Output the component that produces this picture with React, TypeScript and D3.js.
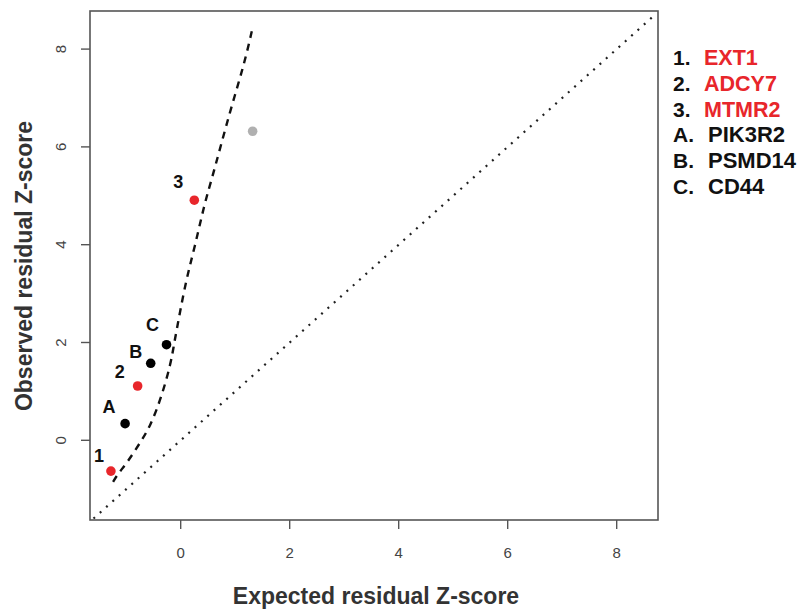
import React from "react";
import * as d3 from "d3";

const pointLabels = ["1", "A", "2", "B", "C", "3", ""];
const pointX = [-1.28, -1.02, -0.79, -0.55, -0.26, 0.25, 1.32];
const pointY = [-0.63, 0.34, 1.11, 1.575, 1.955, 4.91, 6.32];
const pointKind = ["red", "black", "red", "black", "black", "red", "grey"];

const curveX = [-1.24, -1.145, -0.99, -0.75, -0.56, -0.35, -0.18, -0.12, -0.04, 0.1, 0.26, 0.44, 0.55, 0.73, 0.93, 1.17, 1.31];
const curveY = [-0.85, -0.675, -0.47, -0.06, 0.28, 0.89, 1.575, 1.98, 2.46, 3.28, 3.96, 4.85, 5.26, 6.0, 6.82, 7.71, 8.39];

const xTicks = [0, 2, 4, 6, 8];
const yTicks = [0, 2, 4, 6, 8];

const legendNums = ["1.", "2.", "3.", "A.", "B.", "C."];
const legendNames = ["EXT1", "ADCY7", "MTMR2", "PIK3R2", "PSMD14", "CD44"];
const legendKind = ["red", "red", "red", "black", "black", "black"];

const colors: Record<string, string> = { red: "#e8262b", black: "#000", grey: "#b0b0b0" };

export default function App() {
  const x = d3.scaleLinear().domain([-1.664, 8.758]).range([90, 658]);
  const y = d3.scaleLinear().domain([-1.63, 8.779]).range([520, 11]);
  const line = d3.line<number>().x((d) => x(curveX[d])).y((d) => y(curveY[d])).curve(d3.curveBasis);
  const idx = curveX.map((_, i) => i);
  const font = "Liberation Sans, Arial, sans-serif";
  const labelOffsets: Record<string, [number, number]> = {
    "1": [-12, -16], A: [-16, -17], "2": [-18, -15], B: [-15, -12], C: [-14, -20], "3": [-16, -19],
  };
  return (
    <svg width={803} height={611} style={{ position: "absolute", left: 0, top: 0, background: "#fff" }} fontFamily={font}>
      <defs>
        <clipPath id="plot">
          <rect x={90} y={11} width={568} height={509} />
        </clipPath>
      </defs>
      <rect x={0} y={0} width={803} height={611} fill="#fff" />
      <line
        x1={x(-1.6)} y1={y(-1.6)} x2={x(8.72)} y2={y(8.72)}
        stroke="#222" strokeWidth={2.2} strokeDasharray="2,6.5" clipPath="url(#plot)"
      />
      <path d={line(idx) || ""} fill="none" stroke="#111" strokeWidth={2.4} strokeDasharray="7,6" />
      <rect x={90} y={11} width={568} height={509} fill="none" stroke="#555" strokeWidth={1.6} />
      {xTicks.map((t) => (
        <g key={"xt" + t}>
          <line x1={x(t)} x2={x(t)} y1={520} y2={529} stroke="#555" strokeWidth={1.4} />
          <text x={x(t)} y={558} textAnchor="middle" fontSize={15} fill="#444">{t}</text>
        </g>
      ))}
      {yTicks.map((t) => (
        <g key={"yt" + t}>
          <line x1={81} x2={90} y1={y(t)} y2={y(t)} stroke="#555" strokeWidth={1.4} />
          <text x={66} y={y(t)} textAnchor="middle" fontSize={15} fill="#444" transform={`rotate(-90 66 ${y(t)})`}>{t}</text>
        </g>
      ))}
      {pointX.map((px, i) => (
        <circle key={"p" + i} cx={x(px)} cy={y(pointY[i])} r={4.8} fill={colors[pointKind[i]]} />
      ))}
      {pointLabels.map((l, i) =>
        l ? (
          <text
            key={"l" + i}
            x={x(pointX[i]) + labelOffsets[l][0]}
            y={y(pointY[i]) + labelOffsets[l][1] + 6.5}
            textAnchor="middle"
            fontSize={18}
            fontWeight="bold"
            fill="#111"
          >
            {l}
          </text>
        ) : null
      )}
      <text x={376} y={604} textAnchor="middle" fontSize={23} fontWeight="bold" fill="#333">Expected residual Z-score</text>
      <text x={0} y={0} textAnchor="middle" fontSize={23} fontWeight="bold" fill="#333" transform="translate(32 266) rotate(-90)">Observed residual Z-score</text>
      {legendNums.map((n, i) => (
        <g key={"lg" + i}>
          <text x={673} y={65 + i * 25.8} fontSize={21} fontWeight="bold" fill="#111">{n}</text>
          <text
            x={legendKind[i] === "red" ? 704 : 708}
            y={65 + i * 25.8}
            fontSize={legendKind[i] === "red" ? 21.5 : 22}
            fontWeight="bold"
            fill={legendKind[i] === "red" ? colors.red : "#111"}
          >
            {legendNames[i]}
          </text>
        </g>
      ))}
    </svg>
  );
}
